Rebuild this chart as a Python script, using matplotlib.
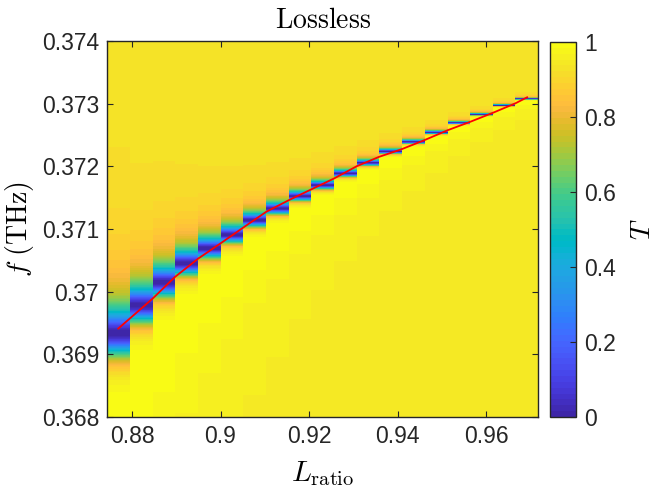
import numpy as np
import matplotlib
matplotlib.use("Agg")
import matplotlib.pyplot as plt
from matplotlib.colors import ListedColormap
from matplotlib.ticker import FuncFormatter

# column positions (L_ratio) of the sweep
L_centers = [0.8770, 0.8821, 0.8872, 0.8923, 0.8975, 0.9026, 0.9077, 0.9128,
             0.9179, 0.9231, 0.9282, 0.9333, 0.9384, 0.9435, 0.9487, 0.9538,
             0.9589, 0.9640, 0.9691]
# frequency of transmission zero per column (THz)
f_dip = [0.369335, 0.369783, 0.370150, 0.370454, 0.370693, 0.370909,
         0.371141, 0.371327, 0.371524, 0.371700, 0.371887, 0.372056,
         0.372238, 0.372391, 0.372542, 0.372695, 0.372829, 0.372973,
         0.373078]
# resonance linewidth per column (THz)
gamma = [3.4e-4, 2.6e-4, 2.2e-4, 1.8e-4, 1.5e-4, 1.25e-4, 1.0e-4, 8.5e-5,
         7e-5, 6e-5, 5e-5, 4.2e-5, 3.4e-5, 2.8e-5, 2.3e-5, 1.9e-5, 1.6e-5,
         1.4e-5, 1.2e-5]
q_fano = 0.26
tail_k = 3.0    # how quickly the high-frequency side returns to background

# red curve (eigenfrequency)
red_L = [0.87690, 0.88468, 0.88972, 0.89498, 0.89995, 0.90515, 0.91028,
         0.91541, 0.92045, 0.92565, 0.93078, 0.93582, 0.94095, 0.94606,
         0.95134, 0.95638, 0.96151, 0.96655, 0.96920]
red_f = [0.369410, 0.369890, 0.370235, 0.370529, 0.370768, 0.371024,
         0.371273, 0.371460, 0.371631, 0.371807, 0.372003, 0.372152,
         0.372275, 0.372419, 0.372578, 0.372711, 0.372855, 0.373005,
         0.373101]

x_ticks = [0.88, 0.90, 0.92, 0.94, 0.96]
y_ticks = [0.368, 0.369, 0.370, 0.371, 0.372, 0.373, 0.374]
c_ticks = [0, 0.2, 0.4, 0.6, 0.8, 1]

parula_rgb = [
    (0.2422, 0.1504, 0.6603), (0.2504, 0.1650, 0.7076), (0.2578, 0.1818, 0.7511),
    (0.2647, 0.1978, 0.7952), (0.2706, 0.2147, 0.8364), (0.2751, 0.2342, 0.8710),
    (0.2783, 0.2559, 0.8991), (0.2803, 0.2782, 0.9221), (0.2813, 0.3006, 0.9414),
    (0.2810, 0.3228, 0.9579), (0.2795, 0.3447, 0.9717), (0.2760, 0.3667, 0.9829),
    (0.2699, 0.3892, 0.9906), (0.2602, 0.4123, 0.9952), (0.2440, 0.4358, 0.9988),
    (0.2206, 0.4603, 0.9973), (0.1963, 0.4847, 0.9892), (0.1834, 0.5074, 0.9798),
    (0.1786, 0.5289, 0.9682), (0.1764, 0.5499, 0.9520), (0.1687, 0.5703, 0.9359),
    (0.1540, 0.5902, 0.9218), (0.1460, 0.6091, 0.9079), (0.1380, 0.6276, 0.8973),
    (0.1248, 0.6459, 0.8883), (0.1113, 0.6635, 0.8763), (0.0952, 0.6798, 0.8598),
    (0.0689, 0.6948, 0.8394), (0.0297, 0.7082, 0.8163), (0.0036, 0.7203, 0.7917),
    (0.0067, 0.7312, 0.7660), (0.0433, 0.7411, 0.7394), (0.0964, 0.7500, 0.7120),
    (0.1408, 0.7584, 0.6842), (0.1717, 0.7670, 0.6554), (0.1938, 0.7758, 0.6251),
    (0.2161, 0.7843, 0.5923), (0.2470, 0.7918, 0.5567), (0.2906, 0.7973, 0.5188),
    (0.3406, 0.8008, 0.4789), (0.3909, 0.8029, 0.4354), (0.4456, 0.8024, 0.3909),
    (0.5044, 0.7993, 0.3480), (0.5616, 0.7942, 0.3045), (0.6174, 0.7876, 0.2612),
    (0.6720, 0.7793, 0.2227), (0.7242, 0.7698, 0.1910), (0.7738, 0.7598, 0.1646),
    (0.8203, 0.7498, 0.1535), (0.8634, 0.7406, 0.1596), (0.9035, 0.7330, 0.1774),
    (0.9393, 0.7288, 0.2100), (0.9728, 0.7298, 0.2394), (0.9956, 0.7434, 0.2371),
    (0.9970, 0.7659, 0.2199), (0.9952, 0.7893, 0.2028), (0.9892, 0.8136, 0.1885),
    (0.9786, 0.8386, 0.1766), (0.9676, 0.8639, 0.1643), (0.9610, 0.8890, 0.1537),
    (0.9597, 0.9135, 0.1423), (0.9628, 0.9373, 0.1265), (0.9691, 0.9606, 0.1064),
    (0.9769, 0.9839, 0.0805)]
parula = ListedColormap(parula_rgb, name="parula")

plt.rcParams['font.family'] = ['Liberation Sans', 'DejaVu Sans']
plt.rcParams['mathtext.fontset'] = 'cm'
txt = (0.15, 0.15, 0.15)

# build transmission map: Fano line per column
Lc = np.array(L_centers)
L_edges = np.concatenate(([Lc[0] - (Lc[1] - Lc[0]) / 2],
                          (Lc[:-1] + Lc[1:]) / 2,
                          [Lc[-1] + (Lc[-1] - Lc[-2]) / 2]))
f_edges = np.linspace(0.368, 0.374, 2401)
f_mid = (f_edges[:-1] + f_edges[1:]) / 2
u = (np.array(f_dip)[None, :] - f_mid[:, None]) / np.array(gamma)[None, :]
u = np.where(u < 0, u * (1 - u / tail_k), u)
T = u**2 / ((1 + q_fano**2) * (1 + (u - q_fano)**2))

fig = plt.figure(figsize=(6.64, 4.98), dpi=100)
ax = fig.add_axes([0.1617, 0.1627, 0.6485, 0.7550])
cax = fig.add_axes([0.8283, 0.1627, 0.0392, 0.7530])

mesh = ax.pcolormesh(L_edges, f_edges, T, cmap=parula, vmin=0, vmax=1,
                     shading='flat')
ax.plot(red_L, red_f, color='red', lw=1.3)

ax.set_xlim(L_edges[0], L_edges[-1])
ax.set_ylim(0.368, 0.374)
ax.set_xticks(x_ticks)
ax.set_yticks(y_ticks)
fmt = FuncFormatter(lambda v, _: f'{round(v, 6):g}')
ax.xaxis.set_major_formatter(fmt)
ax.yaxis.set_major_formatter(fmt)
ax.tick_params(direction='in', length=4, width=0.8, labelsize=16.5,
               colors=txt, top=True, right=True, pad=6)
for s in ax.spines.values():
    s.set_color(txt)
    s.set_linewidth(1.0)

ax.set_title(r'$\mathrm{Lossless}$', fontsize=20, pad=9, color='black')
ax.set_xlabel(r'$L_{\mathrm{ratio}}$', fontsize=21, color='black')
ax.set_ylabel(r'$f\ (\mathrm{THz})$', fontsize=20, color='black')
ax.xaxis.set_label_coords(0.5, -0.112)
ax.yaxis.set_label_coords(-0.165, 0.5)

cb = fig.colorbar(mesh, cax=cax, ticks=c_ticks)
cb.ax.yaxis.set_major_formatter(fmt)
cb.ax.tick_params(direction='in', length=4, width=0.8, labelsize=16.5,
                  colors=txt, pad=6)
cb.outline.set_edgecolor(txt)
cb.outline.set_linewidth(1.0)
cb.set_label(r'$T$', fontsize=20, rotation=90, labelpad=10)

fig.savefig('out.png', dpi=100)
